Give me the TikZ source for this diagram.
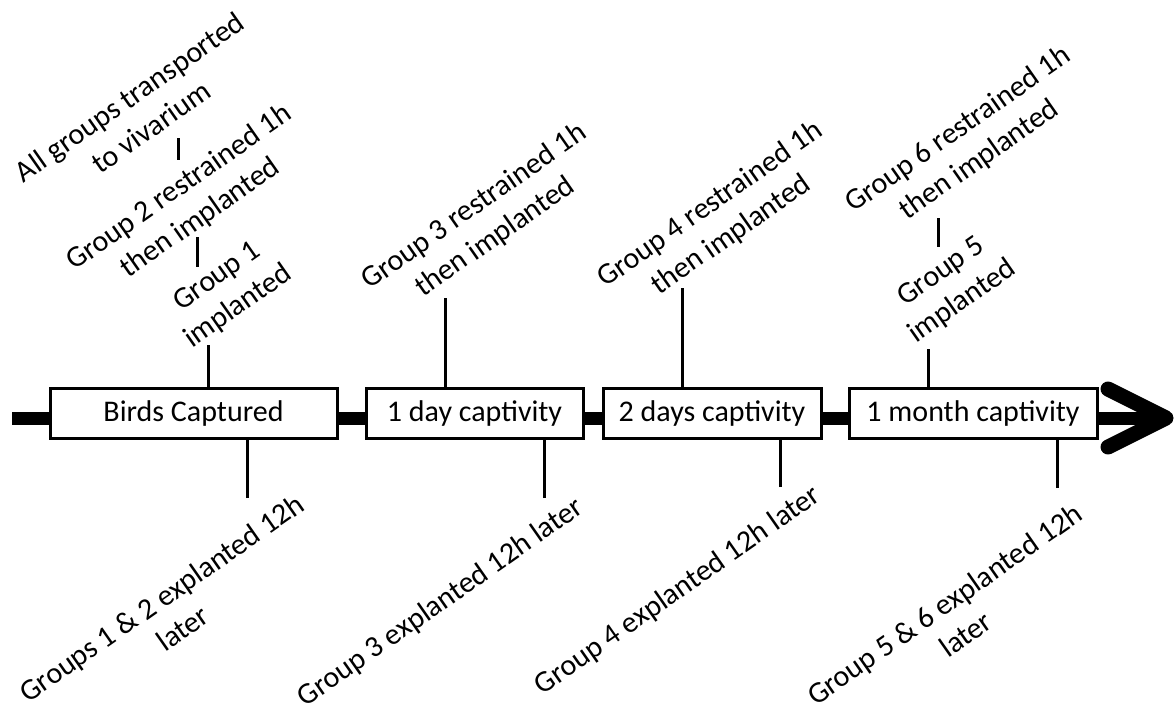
\documentclass[tikz,border=0pt]{standalone}
\usepackage{fontspec}
\setmainfont{Carlito}
\usetikzlibrary{positioning}

\begin{document}
\begin{tikzpicture}[x=0.5pt, y=-0.5pt,
    box/.style={draw, fill=white, line width=1.5pt, inner sep=0pt, minimum height=25pt},
    lbl/.style={rotate=35, align=center, inner sep=0pt},
    tick/.style={line width=1.5pt},
    bar/.style={line width=6.5pt},
    head/.style={line width=7.5pt, line cap=round, line join=round}]
    \useasboundingbox (0, 0) rectangle (1176, 712);
    \fontsize{15}{18.5}\selectfont
    % timeline
    \draw[bar] (12, 418) -- (1160, 418);
    \draw[head] (1108, 389) -- (1166, 418) -- (1108, 447);
    \node[box, minimum width=143.5pt] (b1) at (193.5, 413) {Birds Captured};
    \node[box, minimum width=108.5pt] (b2) at (474.5, 413) {1 day captivity};
    \node[box, minimum width=109pt] (b3) at (712, 413) {2 days captivity};
    \node[box, minimum width=124pt] (b4) at (973, 413) {1 month captivity};
    % labels above
    \node[lbl] (all) at (140, 112) {All groups transported\\to vivarium};
    \node[lbl] (g2) at (190, 203) {Group 2 restrained 1h\\then implanted};
    \node[lbl] (g1) at (228, 292) {Group 1\\implanted};
    \node[lbl] (g3) at (485, 222) {Group 3 restrained 1h\\then implanted};
    \node[lbl] (g4) at (721, 220) {Group 4 restrained 1h\\then implanted};
    \node[lbl] (g6) at (969, 145) {Group 6 restrained 1h\\then implanted};
    \node[lbl] (g5) at (952, 287) {Group 5\\implanted};
    % labels below
    \node[lbl] (x12) at (172, 613) {Groups 1 \& 2 explanted 12h\\later};
    \node[lbl] (x3) at (441, 603) {Group 3 explanted 12h later};
    \node[lbl] (x4) at (678, 591) {Group 4 explanted 12h later};
    \node[lbl] (x56) at (955, 619) {Group 5 \& 6 explanted 12h\\later};
    % ticks
    \coordinate (u1) at (208, 345);
    \coordinate (u2) at (445, 298);
    \coordinate (u3) at (682, 288);
    \coordinate (u4) at (928, 349);
    \coordinate (d1) at (247, 498);
    \coordinate (d2) at (544, 498);
    \coordinate (d3) at (780, 487);
    \coordinate (d4) at (1057, 488);
    \draw[tick] (u1) -- (u1 |- b1.north);
    \draw[tick] (u2) -- (u2 |- b2.north);
    \draw[tick] (u3) -- (u3 |- b3.north);
    \draw[tick] (u4) -- (u4 |- b4.north);
    \draw[tick] (d1) -- (d1 |- b1.south);
    \draw[tick] (d2) -- (d2 |- b2.south);
    \draw[tick] (d3) -- (d3 |- b3.south);
    \draw[tick] (d4) -- (d4 |- b4.south);
    \coordinate (s1a) at (178, 138); \coordinate (s1b) at (178, 160);
    \coordinate (s2a) at (197, 237); \coordinate (s2b) at (197, 267);
    \coordinate (s3a) at (938, 218); \coordinate (s3b) at (938, 247);
    \draw[tick] (s1a) -- (s1b);
    \draw[tick] (s2a) -- (s2b);
    \draw[tick] (s3a) -- (s3b);
\end{tikzpicture}
\end{document}
